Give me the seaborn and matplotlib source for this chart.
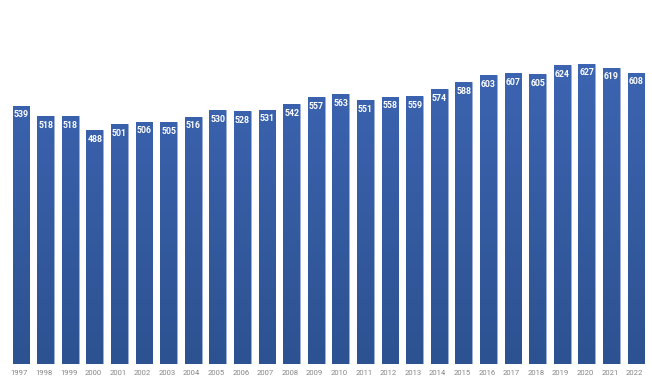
import numpy as np
import pandas as pd
import matplotlib.pyplot as plt
import matplotlib.transforms as mtransforms
import seaborn as sns
from matplotlib.colors import LinearSegmentedColormap

# Values
years = [str(y) for y in range(1997, 2023)]
values = [539, 518, 518, 488, 501, 506, 505, 516, 530, 528, 531, 542, 557,
          563, 551, 558, 559, 574, 588, 603, 607, 605, 624, 627, 619, 608]

df = pd.DataFrame({"year": years, "value": values})

sns.set_style("white")
plt.rcParams["font.family"] = ["Roboto", "DejaVu Sans"]
fig = plt.figure(figsize=(6.52, 3.83), dpi=100)
ax = fig.add_axes([8.7 / 652, 19 / 383, 639.6 / 652, 364 / 383])

sns.barplot(data=df, x="year", y="value", color="#3a62ad", width=0.68,
            edgecolor="#9bb0d8", linewidth=0.5, ax=ax)

# vertical gradient inside every bar: lighter top, darker bottom
cmap = LinearSegmentedColormap.from_list("bar", ["#2d5291", "#4068b8"])
grad = np.linspace(0, 1, 256).reshape(-1, 1)
for patch in ax.patches:
    x0, w = patch.get_x(), patch.get_width()
    im = ax.imshow(grad, cmap=cmap, aspect="auto", origin="lower",
                   extent=[x0, x0 + w, 0, 760], zorder=patch.get_zorder() + 0.1)
    im.set_clip_path(patch)
ax.set_xlim(-0.5, len(years) - 0.5)
ax.set_ylim(0, 760)

# value labels inside the bar tops
for i, v in enumerate(values):
    ax.text(i, v - 19, str(v), ha="center", va="center", color="white",
            fontsize=6.3, fontweight="bold", zorder=5)

ax.set_xlabel("")
ax.set_ylabel("")
ax.set_yticks([])
ax.tick_params(axis="x", length=0, labelsize=5.5, labelcolor="#858585", pad=4)
shift = mtransforms.ScaledTranslation(-1.5 / 100, 0, fig.dpi_scale_trans)
for lab in ax.get_xticklabels():
    lab.set_transform(lab.get_transform() + shift)
sns.despine(ax=ax, left=True, bottom=True)

plt.savefig("out.png", dpi=100)
